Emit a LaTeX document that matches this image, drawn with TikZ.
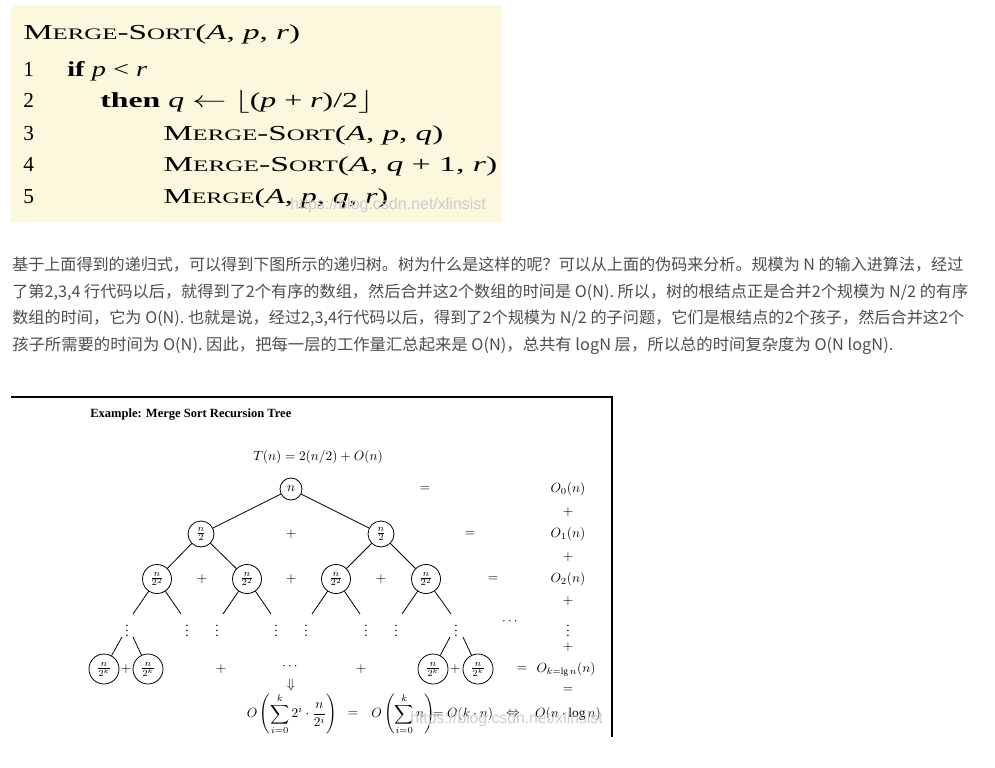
\documentclass[tikz,border=0pt]{standalone}
\usepackage{fontspec}
\usepackage{amsmath}
\usepackage{graphicx}
\setmainfont{Liberation Serif}
\newfontfamily\cjkfont{Noto Sans CJK SC}
\newfontfamily\wmfont{Liberation Sans}
\newlength\px \setlength\px{0.75pt}
\definecolor{codebg}{RGB}{251,248,222}
\definecolor{paratext}{RGB}{77,77,77}
\newcommand\pcsc[1]{{\fontsize{12}{12}\selectfont #1}}
\newcommand\pcline[2]{\resizebox{#1\px}{\height}{\fontsize{16}{19}\selectfont #2}}
\newcommand\parline[2]{\resizebox{#1\px}{\height}{#2}}
\begin{document}
\begin{tikzpicture}[x=0.75pt,y=-0.75pt,
  cnode/.style={draw, circle, inner sep=0pt, line width=0.6pt, font=\fontsize{10}{12}\selectfont},
  mth/.style={inner sep=0pt, font=\fontsize{10}{12}\selectfont},
  tedge/.style={line width=0.6pt},
  para/.style={anchor=base west, inner sep=0pt, text=paratext, font=\cjkfont\fontsize{12}{14}\selectfont},
  code/.style={anchor=base west, inner sep=0pt},
  num/.style={anchor=base west, inner sep=0pt, font=\fontsize{16}{19}\selectfont},
  wmark/.style={inner sep=0pt, anchor=base west, text=black!20, font=\wmfont\fontsize{12}{14}\selectfont}]
\useasboundingbox (0,0) rectangle (995,767);
\fill[white] (0,0) rectangle (995,767);
% ---------- pseudocode box ----------
\fill[codebg] (11,5) rectangle (502,222);
\node[code] (c0) at (23,40) {\pcline{277}{M\pcsc{ERGE}-S\pcsc{ORT}(\textit{A}, \textit{p}, \textit{r})}};
\node[num] (n1) at (23,77) {1};
\node[num] (n2) at (23,108) {2};
\node[num] (n3) at (23,140) {3};
\node[num] (n4) at (23,171) {4};
\node[num] (n5) at (23,203) {5};
\node[code] (c1) at (67,77) {\pcline{80}{\textbf{if} \textit{p} < \textit{r}}};
\node[code] (c2) at (100,108) {\pcline{273}{\textbf{then} \textit{q} $\leftarrow$ $\lfloor$(\textit{p} + \textit{r})/2$\rfloor$}};
\node[code] (c3) at (163,140) {\pcline{280}{M\pcsc{ERGE}-S\pcsc{ORT}(\textit{A}, \textit{p}, \textit{q})}};
\node[code] (c4) at (163,171) {\pcline{334}{M\pcsc{ERGE}-S\pcsc{ORT}(\textit{A}, \textit{q} + 1, \textit{r})}};
\node[code] (c5) at (163,203) {\pcline{225}{M\pcsc{ERGE}(\textit{A}, \textit{p}, \textit{q}, \textit{r})}};
\node[wmark] (wm1) at (290,209) {https://blog.csdn.net/xlinsist};
% ---------- paragraph ----------
\node[para] (p1) at (12,270) {\parline{951}{基于上面得到的递归式，可以得到下图所示的递归树。树为什么是这样的呢？可以从上面的伪码来分析。规模为 N 的输入进算法，经过}};
\node[para] (p2) at (12,297) {\parline{956}{了第2,3,4 行代码以后，就得到了2个有序的数组，然后合并这2个数组的时间是 O(N). 所以，树的根结点正是合并2个规模为 N/2 的有序}};
\node[para] (p3) at (12,323) {\parline{952}{数组的时间，它为 O(N). 也就是说，经过2,3,4行代码以后，得到了2个规模为 N/2 的子问题，它们是根结点的2个孩子，然后合并这2个}};
\node[para] (p4) at (12,350) {\parline{881}{孩子所需要的时间为 O(N). 因此，把每一层的工作量汇总起来是 O(N)，总共有 logN 层，所以总的时间复杂度为 O(N logN).}};
% ---------- recursion tree figure ----------
\draw[line width=1.1pt] (11,397) -- (612,397) -- (612,737);
\node[anchor=base west, inner sep=0pt, font=\fontsize{9.4}{11}\selectfont\bfseries] (title) at (90,417) {Example: Merge Sort Recursion Tree};
\node[mth] (rec) at (318,457) {$T(n)=2(n/2)+O(n)$};
% circles
\node[cnode, minimum size=22\px] (r) at (291,489) {$n$};
\node[cnode, minimum size=26\px] (a1) at (201,534) {$\frac{n}{2}$};
\node[cnode, minimum size=26\px] (a2) at (381,534) {$\frac{n}{2}$};
\node[cnode, minimum size=29\px] (b1) at (157,579) {$\frac{n}{2^2}$};
\node[cnode, minimum size=29\px] (b2) at (247,579) {$\frac{n}{2^2}$};
\node[cnode, minimum size=29\px] (b3) at (336,579) {$\frac{n}{2^2}$};
\node[cnode, minimum size=29\px] (b4) at (426,579) {$\frac{n}{2^2}$};
\node[cnode, minimum size=30\px] (k1) at (104,669) {$\frac{n}{2^k}$};
\node[cnode, minimum size=30\px] (k2) at (148,669) {$\frac{n}{2^k}$};
\node[cnode, minimum size=30\px] (k3) at (433,669) {$\frac{n}{2^k}$};
\node[cnode, minimum size=30\px] (k4) at (478,669) {$\frac{n}{2^k}$};
% edges
\draw[tedge] (r) -- (a1);
\draw[tedge] (r) -- (a2);
\draw[tedge] (a1) -- (b1);
\draw[tedge] (a1) -- (b2);
\draw[tedge] (a2) -- (b3);
\draw[tedge] (a2) -- (b4);
\coordinate (e1) at (133,614); \coordinate (e2) at (181,614);
\coordinate (e3) at (223,614); \coordinate (e4) at (271,614);
\coordinate (e5) at (312,614); \coordinate (e6) at (360,614);
\coordinate (e7) at (402,614); \coordinate (e8) at (451,614);
\draw[tedge] (b1) -- (e1); \draw[tedge] (b1) -- (e2);
\draw[tedge] (b2) -- (e3); \draw[tedge] (b2) -- (e4);
\draw[tedge] (b3) -- (e5); \draw[tedge] (b3) -- (e6);
\draw[tedge] (b4) -- (e7); \draw[tedge] (b4) -- (e8);
% vertical dots
\foreach \i/\xx in {1/127,2/187,3/217,4/276,5/306,6/366,7/396,8/456}
  \node[mth] (d\i) at (\xx,627) {$\vdots$};
\coordinate (s1) at (122,637); \coordinate (s2) at (133,637);
\coordinate (s3) at (450,637); \coordinate (s4) at (463,637);
\draw[tedge] (s1) -- (k1); \draw[tedge] (s2) -- (k2);
\draw[tedge] (s3) -- (k3); \draw[tedge] (s4) -- (k4);
% plus signs in tree
\node[mth] (pl1) at (291,534) {$+$};
\node[mth] (pl2) at (202,579) {$+$};
\node[mth] (pl3) at (291,579) {$+$};
\node[mth] (pl4) at (381,579) {$+$};
\node[mth] (pl5) at (126,669) {$+$};
\node[mth] (pl6) at (221,669) {$+$};
\node[mth] (pl7) at (361,669) {$+$};
\node[mth] (pl8) at (455,669) {$+$};
\node[mth] (dd1) at (291,667) {$\cdots$};
\node[mth] (dd2) at (511,622) {$\cdots$};
\node[mth] (dar) at (291,685) {$\Downarrow$};
% equals column
\node[mth] (q0) at (425,489) {$=$};
\node[mth] (q1) at (470,534) {$=$};
\node[mth] (q2) at (493,579) {$=$};
\node[mth] (qk) at (522,669) {$=$};
% right column
\node[mth] (o0) at (568,489) {$O_0(n)$};
\node[mth] (rp0) at (568,512) {$+$};
\node[mth] (o1) at (568,534) {$O_1(n)$};
\node[mth] (rp1) at (568,557) {$+$};
\node[mth] (o2) at (568,579) {$O_2(n)$};
\node[mth] (rp2) at (568,601) {$+$};
\node[mth] (rv) at (568,627) {$\vdots$};
\node[mth] (rp3) at (568,647) {$+$};
\node[mth] (ok) at (566,669) {$O_{k=\lg n}(n)$};
\node[mth] (req) at (568,690) {$=$};
% bottom formula
\node[mth] (f1) at (292,714) {$\displaystyle O\left(\sum_{i=0}^{k}2^i\cdot\frac{n}{2^i}\right)$};
\node[mth] (feq) at (353,714) {$=$};
\node[mth] (f2) at (403,714) {$\displaystyle O\left(\sum_{i=0}^{k}n\right)$};
\node[mth] (f3) at (463,714) {$=O(k\cdot n)$};
\node[mth] (fiff) at (513,714) {$\Leftrightarrow$};
\node[mth] (f4) at (568,714) {$O(n\cdot\log n)$};
\node[wmark, font=\wmfont\fontsize{11.8}{14}\selectfont] (wm2) at (410,723) {https://blog.csdn.net/xlinsist};
\end{tikzpicture}
\end{document}
